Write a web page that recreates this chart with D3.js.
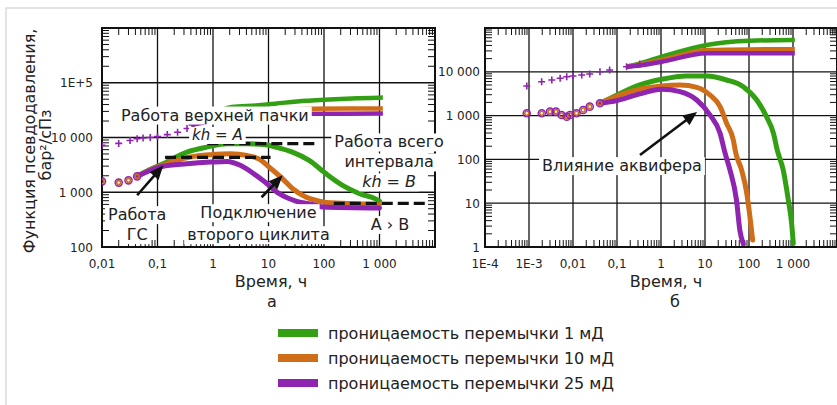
<!DOCTYPE html>
<html>
<head>
<meta charset="utf-8">
<script src="https://cdn.jsdelivr.net/npm/d3@7"></script>
<style>
  body { margin: 0; background: #fff; }
  text { font-family: "DejaVu Sans", sans-serif; fill: #222; }
</style>
</head>
<body>
<svg id="chart" width="837" height="405"></svg>
<script>
const GREEN = "#33a014", ORANGE = "#d06d18", PURPLE = "#8e24b0";

// ---------- panel "а" ----------
const aXTicks = [0.01, 0.1, 1, 10, 100, 1000];
const aXLabels = ["0,01", "0,1", "1", "10", "100", "1 000"];
const aYTicks = [100, 1000, 10000, 100000];
const aYLabels = ["100", "1 000", "10 000", "1E+5"];

// upper curves (early crosses shared by all three)
const aCrossT = [0.01, 0.02, 0.032, 0.043, 0.055, 0.074, 0.1, 0.15, 0.23, 0.34, 0.42];
const aCrossV = [7200, 7800, 8800, 9500, 9800, 10000, 10400, 11300, 12500, 14600, 17000];
const aUpGreenT = [0.42, 0.55, 2.2, 6, 13, 47, 100, 400, 1000, 1150];
const aUpGreenV = [17000, 19500, 36000, 38500, 41500, 47000, 49000, 52000, 53400, 53500];
const aUpOrangeT = [0.42, 0.55, 2.2, 10, 58, 1000, 1150];
const aUpOrangeV = [17000, 19000, 27000, 31000, 33500, 33800, 33800];
const aUpPurpleT = [0.42, 0.55, 2.2, 10, 58, 1000, 1150];
const aUpPurpleV = [17000, 18000, 23000, 26000, 27200, 27300, 27300];

// lower curves (early circles shared)
const aCircT = [0.01, 0.02, 0.03, 0.043];
const aCircV = [1580, 1500, 1650, 1950];
const aLoGreenT = [0.043, 0.07, 0.12, 0.34, 0.78, 1.8, 4.1, 8.9, 13.4, 27, 54, 108, 216, 430, 865, 1000];
const aLoGreenV = [1950, 2550, 3250, 5400, 6670, 7680, 7680, 7360, 6670, 5400, 3820, 2190, 1340, 950, 750, 690];
const aLoOrangeT = [0.043, 0.07, 0.12, 0.39, 0.9, 2.07, 4.1, 7.2, 10.2, 17.8, 27, 47, 82, 108, 1000];
const aLoOrangeV = [1950, 2500, 3100, 4400, 4850, 5060, 4700, 3900, 2900, 1775, 1170, 820, 690, 650, 600];
const aLoPurpleT = [0.043, 0.07, 0.12, 0.34, 0.9, 1.8, 3.1, 5.4, 8.3, 15.4, 31, 62, 94, 1000];
const aLoPurpleV = [1950, 2450, 2950, 3320, 3560, 3660, 3100, 2190, 1585, 950, 690, 600, 540, 518];

// dashed "kh" levels: [t start, t end, value]
const aDashes = [[0.79, 71, 7700], [0.137, 10.9, 4330], [150, 6900, 624]];

// ---------- panel "б" ----------
const bXTicks = [1e-4, 1e-3, 0.01, 0.1, 1, 10, 100, 1000];
const bXLabels = ["1E-4", "1E-3", "0,01", "0,1", "1", "10", "100", "1 000"];
const bYTicks = [1, 10, 100, 1000, 10000];
const bYLabels = ["1", "10", "100", "1 000", "10 000"];

const bCrossT = [0.00089, 0.00194, 0.0033, 0.0051, 0.0072, 0.01, 0.0158, 0.024, 0.041, 0.068, 0.165, 0.33];
const bCrossV = [4740, 5940, 6500, 7110, 7730, 8020, 8450, 8910, 10000, 10960, 13060, 15000];
const bUpGreenT = [0.165, 0.33, 1.04, 10.9, 100, 1000, 1100];
const bUpGreenV = [13060, 15600, 22100, 41000, 51000, 53200, 53200];
const bUpOrangeT = [0.165, 0.33, 1.04, 10.9, 100, 1000, 1100];
const bUpOrangeV = [13060, 14800, 18600, 31500, 32500, 32700, 32700];
const bUpPurpleT = [0.165, 0.33, 1.04, 10.9, 100, 1000, 1100];
const bUpPurpleV = [13060, 14000, 17000, 26500, 26500, 26500, 26500];

const bCircT = [0.00089, 0.00195, 0.003, 0.0041, 0.0055, 0.0072, 0.0085, 0.012, 0.017, 0.024, 0.041];
const bCircV = [1130, 1130, 1230, 1230, 1030, 945, 1030, 1130, 1340, 1600, 1910];
const bLoGreenT = [0.041, 0.1, 0.33, 1.04, 3.8, 10.9, 31, 74, 150, 250, 360, 440, 600, 780, 930, 1016];
const bLoGreenV = [1910, 2950, 5000, 6740, 8020, 8020, 6500, 4570, 2270, 944, 394, 160, 57, 12, 3.5, 1.2];
const bLoOrangeT = [0.041, 0.1, 0.33, 1.04, 2.7, 6.5, 13, 22, 31, 44, 50, 68, 89, 105, 121];
const bLoOrangeV = [1910, 2800, 4000, 4740, 5000, 4425, 2950, 1600, 667, 277, 140, 57, 16.8, 4.9, 1.45];
const bLoPurpleT = [0.041, 0.1, 0.33, 1.04, 2.7, 6.5, 13, 22, 28, 37, 52, 62, 74];
const bLoPurpleV = [1910, 2200, 3130, 3985, 3514, 2270, 1032, 394, 150, 57, 11.8, 2.4, 1.2];

const legendLabels = ["проницаемость перемычки 1 мД", "проницаемость перемычки 10 мД", "проницаемость перемычки 25 мД"];
const legendColors = [GREEN, ORANGE, PURPLE];

const svg = d3.select("#chart");

// light outer frame
svg.append("rect").attr("x", 6).attr("y", 8).attr("width", 900).attr("height", 500)
  .attr("fill", "none").attr("stroke", "#dcdcdc").attr("stroke-width", 1.5);

function drawPanel(p) {
  const x = p.x, y = p.y;
  const [x0, x1] = x.range(), [y0, y1] = y.range();
  const g = svg.append("g");
  const id = "clip" + p.name;
  svg.append("clipPath").attr("id", id).append("rect")
    .attr("x", x0).attr("y", y1).attr("width", x1 - x0).attr("height", y0 - y1);

  // grid
  g.selectAll(".gx").data(p.gridX).join("line")
    .attr("x1", d => x(d)).attr("x2", d => x(d)).attr("y1", y0).attr("y2", y1)
    .attr("stroke", "#111").attr("stroke-width", 1.3);
  g.selectAll(".gy").data(p.gridY).join("line")
    .attr("y1", d => y(d)).attr("y2", d => y(d)).attr("x1", x0).attr("x2", x1)
    .attr("stroke", "#111").attr("stroke-width", 1.3);

  // minor ticks on all four sides
  const minors = dom => {
    const out = [];
    for (let e = Math.floor(Math.log10(dom[0])); e < Math.log10(dom[1]); e++)
      for (let m = 2; m <= 9; m++) {
        const v = m * Math.pow(10, e);
        if (v > dom[0] && v < dom[1]) out.push(v);
      }
    return out;
  };
  const tl = 7;
  minors(x.domain()).forEach(v => {
    g.append("line").attr("x1", x(v)).attr("x2", x(v)).attr("y1", y0).attr("y2", y0 - tl).attr("stroke", "#111");
    g.append("line").attr("x1", x(v)).attr("x2", x(v)).attr("y1", y1).attr("y2", y1 + tl).attr("stroke", "#111");
  });
  minors(y.domain()).forEach(v => {
    g.append("line").attr("y1", y(v)).attr("y2", y(v)).attr("x1", x0).attr("x2", x0 + tl).attr("stroke", "#111");
    g.append("line").attr("y1", y(v)).attr("y2", y(v)).attr("x1", x1).attr("x2", x1 - tl).attr("stroke", "#111");
  });

  // frame
  g.append("rect").attr("x", x0).attr("y", y1).attr("width", x1 - x0).attr("height", y0 - y1)
    .attr("fill", "none").attr("stroke", "#111").attr("stroke-width", 2);

  // tick labels
  g.selectAll(".xl").data(p.xTicks).join("text")
    .attr("x", d => x(d)).attr("y", y0 + 21).attr("text-anchor", "middle")
    .attr("font-size", 12).text((d, i) => p.xLabels[i]);
  g.selectAll(".yl").data(p.yTicks).join("text")
    .attr("x", x0 - p.yPad).attr("y", d => y(d) + 4.5).attr("text-anchor", "end")
    .attr("font-size", 12).text((d, i) => p.yLabels[i]);

  // data
  const dg = g.append("g").attr("clip-path", `url(#${id})`);
  const line = d3.line().x(d => x(d[0])).y(d => y(d[1])).curve(d3.curveMonotoneX);
  p.series.forEach(s => {
    dg.append("path").datum(d3.zip(s.t, s.v)).attr("d", line)
      .attr("fill", "none").attr("stroke", s.c).attr("stroke-width", s.w || 5)
      .attr("stroke-linecap", s.w ? "butt" : "round").attr("stroke-linejoin", "round");
  });
  const circ = d3.zip(p.circT, p.circV);
  dg.selectAll(".co").data(circ).join("circle")
    .attr("cx", d => x(d[0])).attr("cy", d => y(d[1])).attr("r", 2)
    .attr("fill", "none").attr("stroke", ORANGE).attr("stroke-width", 1.6);
  dg.selectAll(".cp").data(circ).join("circle")
    .attr("cx", d => x(d[0])).attr("cy", d => y(d[1])).attr("r", 3.6)
    .attr("fill", "none").attr("stroke", PURPLE).attr("stroke-width", 1.4);
  dg.selectAll(".cr").data(d3.zip(p.crossT, p.crossV)).join("path")
    .attr("transform", d => `translate(${x(d[0])},${y(d[1])})`)
    .attr("d", "M-3.5,0H3.5M0,-3.5V3.5")
    .attr("stroke", PURPLE).attr("stroke-width", 1.6);

  (p.dashes || []).forEach(d => {
    g.append("line").attr("x1", x(d[0])).attr("x2", x(d[1])).attr("y1", y(d[2])).attr("y2", y(d[2]))
      .attr("stroke", "#111").attr("stroke-width", 3.2).attr("stroke-dasharray", "11,5");
  });
  return g;
}

// text with a white box behind each line
function note(g, px, py, lines, opt = {}) {
  const size = opt.size || 16, lh = opt.lh || 20;
  lines.forEach((s, i) => {
    const gg = g.append("g");
    const r = gg.append("rect").attr("fill", "#fff");
    const t = gg.append("text").attr("x", px).attr("y", py + i * lh)
      .attr("text-anchor", "middle").attr("font-size", size)
      .attr("font-style", opt.italic ? "italic" : null).text(s);
    const b = t.node().getBBox();
    r.attr("x", b.x - 3).attr("y", b.y + 1).attr("width", b.width + 6).attr("height", b.height - 1);
  });
}

function arrow(g, xa, ya, xb, yb) {
  const ang = Math.atan2(yb - ya, xb - xa) * 180 / Math.PI;
  const len = Math.hypot(xb - xa, yb - ya);
  const ag = g.append("g").attr("transform", `translate(${xa},${ya}) rotate(${ang})`);
  ag.append("line").attr("x1", 0).attr("y1", 0).attr("x2", len - 10).attr("y2", 0)
    .attr("stroke", "#111").attr("stroke-width", 2.6);
  ag.append("path").attr("d", `M${len},0L${len - 14},-6L${len - 14},6Z`).attr("fill", "#111");
}

// ---------- panel а ----------
const xa = d3.scaleLog().domain([0.01, 10000]).range([102, 435]);
const ya = d3.scaleLog().domain([100, 1e6]).range([247, 28]);
const ga = drawPanel({
  name: "a", x: xa, y: ya, yPad: 9,
  gridX: [0.1, 1, 10, 100, 1000], gridY: [1000, 10000, 100000],
  xTicks: aXTicks, xLabels: aXLabels, yTicks: aYTicks, yLabels: aYLabels,
  crossT: aCrossT, crossV: aCrossV, circT: aCircT, circV: aCircV,
  series: [
    { t: aUpGreenT, v: aUpGreenV, c: GREEN, w: 4.5 },
    { t: aUpOrangeT, v: aUpOrangeV, c: ORANGE, w: 4.5 },
    { t: aUpPurpleT, v: aUpPurpleV, c: PURPLE, w: 4.5 },
    { t: aLoGreenT, v: aLoGreenV, c: GREEN },
    { t: aLoOrangeT, v: aLoOrangeV, c: ORANGE },
    { t: aLoPurpleT, v: aLoPurpleV, c: PURPLE }
  ],
  dashes: aDashes
});
note(ga, xa(1.08), ya(20400), ["Работа верхней пачки"]);
note(ga, xa(1.2), ya(9000), ["kh = A"], { italic: true, size: 15 });
note(ga, xa(1490), ya(6580), ["Работа всего", "интервала"]);
note(ga, xa(1490), ya(1230), ["kh = B"], { italic: true });
note(ga, xa(0.043), ya(310), ["Работа", "ГС"]);
note(ga, xa(6.6), ya(336), ["Подключение", "второго циклита"], { lh: 22 });
note(ga, xa(1550), ya(204), ["A › B"]);
arrow(ga, xa(0.043), ya(881), xa(0.127), ya(3090));
arrow(ga, xa(7.5), ya(811), xa(18), ya(2040));

// ---------- panel б ----------
const xb = d3.scaleLog().domain([1e-4, 1e4]).range([485, 837]);
const yb = d3.scaleLog().domain([1, 1e5]).range([247, 28]);
const gb = drawPanel({
  name: "b", x: xb, y: yb, yPad: 5,
  gridX: [1e-3, 0.01, 0.1, 1, 10, 100, 1000], gridY: [10, 100, 1000, 10000],
  xTicks: bXTicks, xLabels: bXLabels, yTicks: bYTicks, yLabels: bYLabels,
  crossT: bCrossT, crossV: bCrossV, circT: bCircT, circV: bCircV,
  series: [
    { t: bUpGreenT, v: bUpGreenV, c: GREEN, w: 4.5 },
    { t: bUpOrangeT, v: bUpOrangeV, c: ORANGE, w: 4.5 },
    { t: bUpPurpleT, v: bUpPurpleV, c: PURPLE, w: 4.5 },
    { t: bLoGreenT, v: bLoGreenV, c: GREEN },
    { t: bLoOrangeT, v: bLoOrangeV, c: ORANGE },
    { t: bLoPurpleT, v: bLoPurpleV, c: PURPLE }
  ]
});
note(gb, xb(0.13), yb(54), ["Влияние аквифера"]);
arrow(gb, xb(0.333), yb(126), xb(6.6), yb(1210));

// axis titles
svg.append("text").attr("x", 271).attr("y", 287).attr("text-anchor", "middle").attr("font-size", 16).text("Время, ч");
svg.append("text").attr("x", 272).attr("y", 307).attr("text-anchor", "middle").attr("font-size", 16).text("а");
svg.append("text").attr("x", 666).attr("y", 287).attr("text-anchor", "middle").attr("font-size", 16).text("Время, ч");
svg.append("text").attr("x", 675).attr("y", 307).attr("text-anchor", "middle").attr("font-size", 16).text("б");
svg.append("text").attr("transform", "translate(35,141) rotate(-90)").attr("text-anchor", "middle")
  .attr("font-size", 16).text("Функция псевдодавления,");
svg.append("text").attr("transform", "translate(51,145) rotate(-90)").attr("text-anchor", "middle")
  .attr("font-size", 16).text("бар²/сПз");

// legend
const lg = svg.append("g");
legendLabels.forEach((s, i) => {
  lg.append("rect").attr("x", 278).attr("y", 329 + i * 25).attr("width", 40).attr("height", 8).attr("fill", legendColors[i]);
  lg.append("text").attr("x", 328).attr("y", 339 + i * 25).attr("font-size", 16).text(s);
});
</script>
</body>
</html>
